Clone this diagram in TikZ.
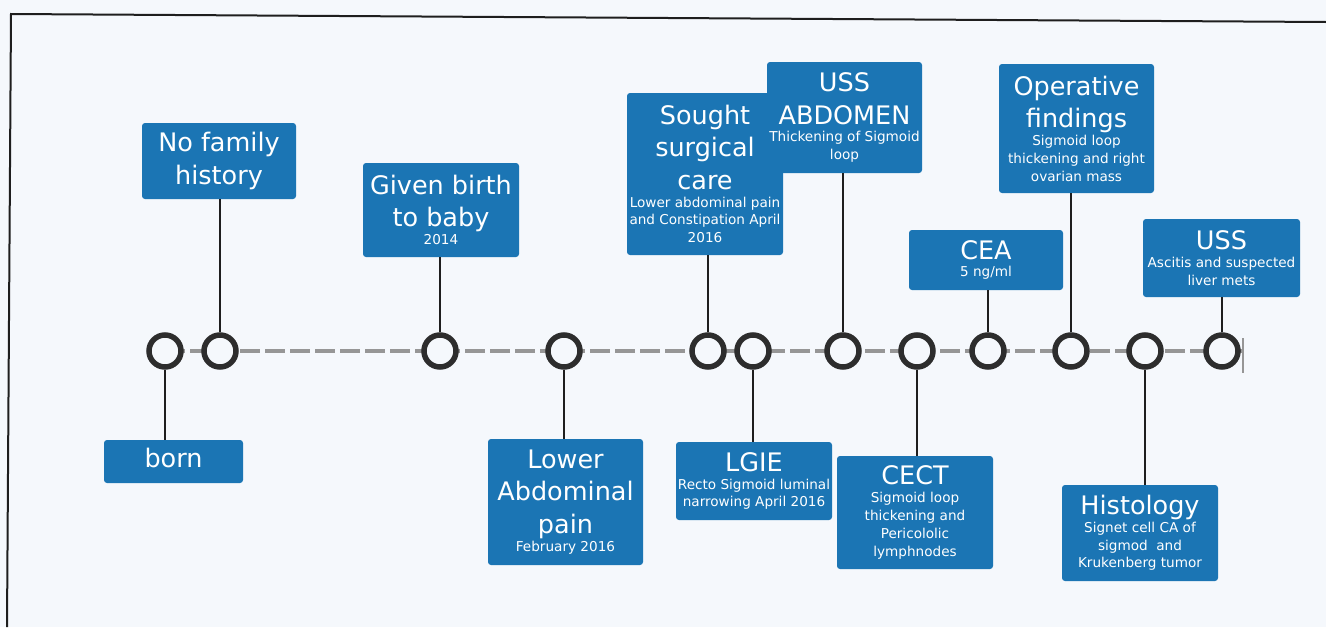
\documentclass[tikz,border=0pt]{standalone}
\usepackage{fontspec}
\setmainfont{DejaVu Sans}
\definecolor{bgpaper}{RGB}{245,248,252}
\definecolor{boxblue}{RGB}{27,117,180}
\definecolor{dashgray}{RGB}{150,150,150}
\definecolor{ringgray}{RGB}{45,45,45}
\definecolor{framegray}{RGB}{30,30,30}
\newcommand\fixspaces{\spaceskip=\fontdimen2\font\xspaceskip=\fontdimen2\font\relax}
\newcommand\ttl{\fontsize{25.5}{32.5}\selectfont\fixspaces}
\newcommand\sbt{\fontsize{13.6}{17.8}\selectfont\fixspaces}
\tikzset{
  box/.style args={#1x#2}{fill=boxblue, rounded corners=3pt, text=white, align=center,
    inner sep=0pt, minimum width=#1pt, minimum height=#2pt, text width=#1pt},
  ring/.style={circle, draw=ringgray, line width=5.5pt, fill=bgpaper, minimum size=32pt, inner sep=0pt},
  conn/.style={draw=framegray, line width=1.2pt},
  timeline/.style={draw=dashgray, line width=4.5pt, dash pattern=on 20pt off 5pt},
  endtick/.style={draw=dashgray, line width=1.8pt},
  frameline/.style={draw=framegray, line width=2pt}
}
\begin{document}
\begin{tikzpicture}[x=1pt,y=-1pt]
\useasboundingbox (0,0) rectangle (1326,627);
\fill[bgpaper] (0,0) rectangle (1326,627);
% frame
\coordinate (fTR) at (1326,22);
\coordinate (fTL) at (11,14);
\coordinate (fBL) at (7,627);
\draw[frameline] (fTR) -- (fTL) -- (fBL);

% timeline
\coordinate (tlstart) at (165,351);
\coordinate (tlend) at (1243,351);
\coordinate (tickT) at (1243,338);
\coordinate (tickB) at (1243,373);
\draw[timeline] (tlstart) -- (tlend);
\draw[endtick] (tickT) -- (tickB);

% rings
\node[ring] (c1) at (165,351) {};
\node[ring] (c2) at (220,351) {};
\node[ring] (c3) at (440,351) {};
\node[ring] (c4) at (564,351) {};
\node[ring] (c5) at (708,351) {};
\node[ring] (c6) at (753,351) {};
\node[ring] (c7) at (843,351) {};
\node[ring] (c8) at (917,351) {};
\node[ring] (c9) at (988,351) {};
\node[ring] (c10) at (1071,351) {};
\node[ring] (c11) at (1145,351) {};
\node[ring] (c12) at (1222,351) {};

% boxes
\node[box=154x76] (nofam) at (219,161) {\ttl No family\\history\par};
\node[box=156x94] (birth) at (441,210) {{\ttl Given birth\\to baby\par}{\sbt 2014\par}};
\node[box=156x162] (sought) at (705,174) {{\ttl Sought\\surgical\\care\par}{\sbt Lower abdominal pain\\and Constipation April\\2016\par}};
\node[box=155x111] (ussabd) at (844.5,117.5) {{\ttl USS\\ABDOMEN\par}{\sbt Thickening of Sigmoid\\loop\par}};
\node[box=154x60] (cea) at (986,260) {{\ttl CEA\par}{\sbt 5 ng/ml\par}};
\node[box=155x129] (oper) at (1076.5,128.5) {{\ttl Operative\\findings\par}{\sbt Sigmoid loop\\thickening and right\\ovarian mass\par}};
\node[box=157x78] (usstwo) at (1221.5,258) {{\ttl USS\par}{\sbt Ascitis and suspected\\liver mets\par}};
\node[box=139x43] (born) at (173.5,461.5) {\ttl born\par\vspace{8pt}};
\node[box=155x126] (lower) at (565.5,502) {{\ttl Lower\\Abdominal\\pain\par}{\sbt February 2016\par}};
\node[box=156x78] (lgie) at (754,481) {{\ttl LGIE\par}{\sbt Recto Sigmoid luminal\\narrowing April 2016\par}};
\node[box=156x113] (cect) at (915,512.5) {{\ttl CECT\par}{\sbt Sigmoid loop\\thickening and\\Pericololic\\lymphnodes\par}};
\node[box=156x96] (hist) at (1140,533) {{\ttl Histology\par}{\sbt Signet cell CA of\\sigmod\ \ and\\Krukenberg tumor\par}};

% connectors
\draw[conn] (c1.south) -- (c1.south |- born.north);
\draw[conn] (c2.north) -- (c2.north |- nofam.south);
\draw[conn] (c3.north) -- (c3.north |- birth.south);
\draw[conn] (c4.south) -- (c4.south |- lower.north);
\draw[conn] (c5.north) -- (c5.north |- sought.south);
\draw[conn] (c6.south) -- (c6.south |- lgie.north);
\draw[conn] (c7.north) -- (c7.north |- ussabd.south);
\draw[conn] (c8.south) -- (c8.south |- cect.north);
\draw[conn] (c9.north) -- (c9.north |- cea.south);
\draw[conn] (c10.north) -- (c10.north |- oper.south);
\draw[conn] (c11.south) -- (c11.south |- hist.north);
\draw[conn] (c12.north) -- (c12.north |- usstwo.south);
\end{tikzpicture}
\end{document}
